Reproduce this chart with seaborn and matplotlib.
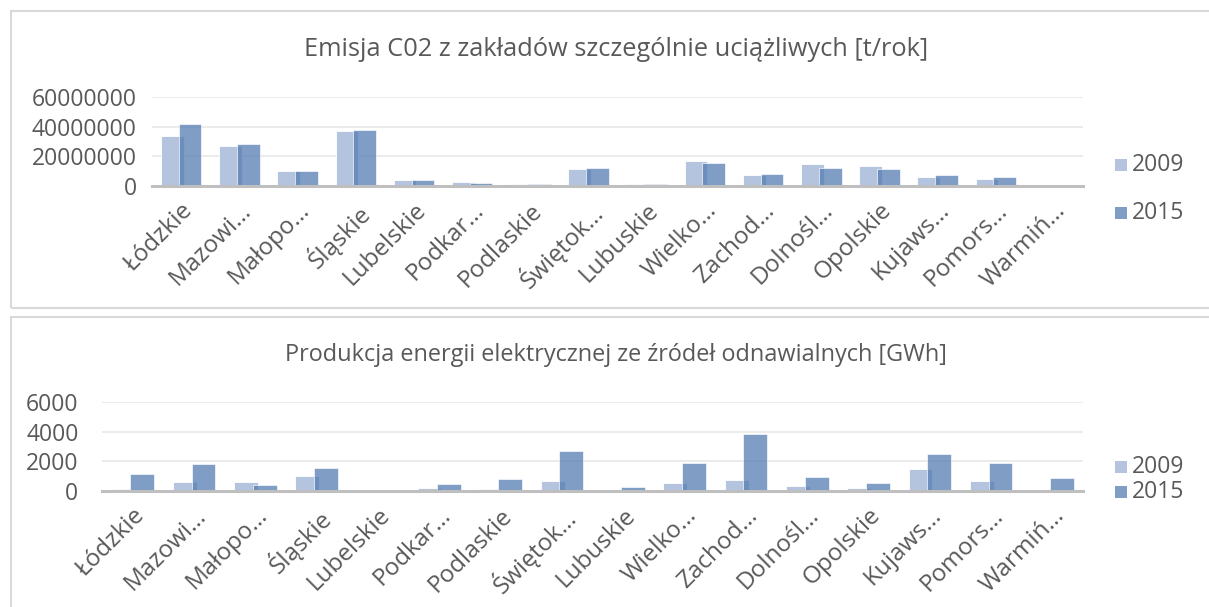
import matplotlib
matplotlib.use("Agg")
import matplotlib.pyplot as plt
from matplotlib.patches import Rectangle
from matplotlib.ticker import FuncFormatter
from matplotlib.transforms import ScaledTranslation
import seaborn as sns
import pandas as pd

# Voivodeships (axis labels are shortened the way the spreadsheet shows them)
regions = ["Łódzkie", "Mazowieckie", "Małopolskie", "Śląskie", "Lubelskie",
           "Podkarpackie", "Podlaskie", "Świętokrzyskie", "Lubuskie",
           "Wielkopolskie", "Zachodniopomorskie", "Dolnośląskie", "Opolskie",
           "Kujawsko-pomorskie", "Pomorskie", "Warmińsko-mazurskie"]
tick_labels = ["Łódzkie", "Mazowi…", "Małopo…", "Śląskie", "Lubelskie",
               "Podkar…", "Podlaskie", "Świętok…", "Lubuskie", "Wielko…",
               "Zachod…", "Dolnośl…", "Opolskie", "Kujaws…", "Pomors…", "Warmiń…"]
years = ["2009", "2015"]

# CO2 emission from especially burdensome plants [t/year]
co2_2009 = [33900000, 27200000, 9900000, 37100000, 4300000, 2700000, 1100000,
            11200000, 1100000, 17100000, 7400000, 14800000, 13300000, 6100000,
            4700000, 700000]
co2_2015 = [41800000, 28300000, 10300000, 37800000, 4300000, 2200000, 1300000,
            11900000, 1100000, 15700000, 7900000, 12100000, 11700000, 7400000,
            5800000, 700000]

# Electricity production from renewable sources [GWh]
res_2009 = [135, 630, 607, 1010, 20, 200, 135, 675, 67, 517, 742, 360, 200,
            1460, 652, 67]
res_2015 = [1120, 1800, 382, 1528, 20, 472, 787, 2674, 270, 1888, 3820, 944,
            539, 2494, 1888, 876]

light = "#b4c4df"
dark = "#547cb2"
text_col = "#595959"
FONT = ["Open Sans", "DejaVu Sans"]
FS = 16.5

sns.set_theme(style="white")
plt.rcParams["font.family"] = FONT

W, H = 1209, 607
fig = plt.figure(figsize=(W / 100, H / 100), dpi=100)


def px_axes(left, right, top, bottom):
    return fig.add_axes([left / W, 1 - bottom / H, (right - left) / W, (bottom - top) / H])


def panel_frame(top, bottom):
    fig.patches.append(Rectangle((11 / W, 1 - bottom / H), 1.2, (bottom - top) / H,
                                 transform=fig.transFigure, fill=False,
                                 edgecolor="#d9d9d9", linewidth=1.5, zorder=0))


def draw_panel(ax, v2009, v2015, ymax, step, ypad, title, title_y, title_fs, leg_y):
    df = pd.DataFrame({
        "region": regions * 2,
        "year": [years[0]] * len(regions) + [years[1]] * len(regions),
        "value": list(v2009) + list(v2015),
    })
    sns.barplot(data=df, x="region", y="value", hue="year", order=regions,
                hue_order=years, palette=[light, dark], dodge=True,
                saturation=1, ax=ax, legend=False, width=0.6)
    # Overlapping clustered bars
    offsets = [-0.15, 0.155]
    alphas = [1.0, 0.75]
    bw = 0.39
    for ci, cont in enumerate(ax.containers):
        for bar in cont:
            c = round(bar.get_x() + bar.get_width() / 2)
            bar.set_x(c + offsets[ci] - bw / 2)
            bar.set_width(bw)
            bar.set_alpha(alphas[ci])
            bar.set_edgecolor("white")
            bar.set_linewidth(0.6)
    ax.set_xlim(-0.5, len(regions) - 0.5)
    ax.set_ylim(0, ymax)
    ax.set_yticks(range(0, ymax + 1, step))
    ax.yaxis.set_major_formatter(FuncFormatter(lambda v, p: f"{int(v)}"))
    ax.yaxis.grid(True, color="#e8e8e8", linewidth=1.2)
    ax.set_axisbelow(True)
    for s in ["top", "right", "left"]:
        ax.spines[s].set_visible(False)
    ax.spines["bottom"].set_color("#bfbfbf")
    ax.spines["bottom"].set_linewidth(2.2)
    ax.set_xlabel("")
    ax.set_ylabel("")
    ax.set_xticks(range(len(regions)))
    ax.set_xticklabels(tick_labels, rotation=45, ha="right", rotation_mode="anchor")
    shift = ScaledTranslation(8 / 100, -2 / 100, fig.dpi_scale_trans)
    for lab in ax.get_xticklabels():
        lab.set_transform(lab.get_transform() + shift)
    ax.tick_params(axis="x", length=0, pad=9, labelsize=17.5, colors=text_col)
    ax.tick_params(axis="y", length=0, pad=ypad, labelsize=FS, colors=text_col)
    fig.text(616 / W, 1 - title_y / H, title, ha="center", va="center",
             fontsize=title_fs, color=text_col, family=FONT)
    # Legend
    for yr, col, a, ly in zip(years, [light, dark], alphas, leg_y):
        fig.patches.append(Rectangle((1115 / W, 1 - (ly + 6) / H), 12 / W, 12 / H,
                                     transform=fig.transFigure, facecolor=col,
                                     alpha=a, edgecolor="none"))
        fig.text(1132 / W, 1 - ly / H, yr, ha="left", va="center",
                 fontsize=FS, color=text_col, family=FONT)


panel_frame(11, 308)
panel_frame(317, 640)

ax1 = px_axes(152, 1083, 97, 186)
draw_panel(ax1, co2_2009, co2_2015, 60000000, 20000000, 11,
           "Emisja C02 z zakładów szczególnie uciążliwych [t/rok]", 50, 18.3, [165, 213])

ax2 = px_axes(102, 1083, 402, 491)
draw_panel(ax2, res_2009, res_2015, 6000, 2000, 17,
           "Produkcja energii elektrycznej ze źródeł odnawialnych [GWh]", 355, 16.9, [467, 492])

fig.savefig("out.png", dpi=100)
